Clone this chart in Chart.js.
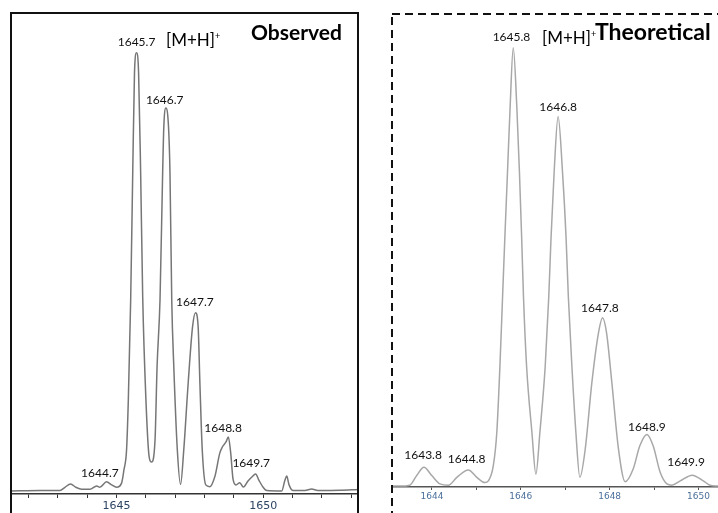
<!DOCTYPE html>
<html>
<head>
<meta charset="utf-8">
<script src="https://cdn.jsdelivr.net/npm/chart.js@4.4.0/dist/chart.umd.min.js"></script>
<style>
  html, body { margin: 0; padding: 0; background: #fff; }
  body { width: 718px; height: 513px; position: relative; overflow: hidden; font-family: Lato, "Open Sans", sans-serif; }
  .panel { position: absolute; top: 0; height: 513px; }
  #obsWrap { left: 0; width: 360px; }
  #theoWrap { left: 360px; width: 358px; }
  .title { position: absolute; font-weight: bold; font-size: 21px; color: #000; white-space: nowrap; line-height: 24px; }
  .ion { position: absolute; font-size: 17px; color: #000; white-space: nowrap; line-height: 20px; }
  .ion sup { font-size: 9px; vertical-align: 0; position: relative; top: -7px; }
</style>
</head>
<body>
<div class="panel" id="obsWrap"><canvas id="obsChart" width="360" height="513"></canvas></div>
<div class="panel" id="theoWrap"><canvas id="theoChart" width="358" height="513"></canvas></div>
<div class="ion" style="left:166px; top:30px">[M+H]<sup>+</sup></div>
<div class="title" style="left:251px; top:20px">Observed</div>
<div class="ion" style="left:542px; top:28px">[M+H]<sup>+</sup></div>
<div class="title" style="left:595px; top:19px; font-size:23px;">Theoretical</div>

<script>
// ===== Observed spectrum (m/z, relative intensity %) =====
const obsMz = [
  1641.40, 1642.39, 1643.07, 1643.24, 1643.43, 1643.61, 1643.81, 1644.09, 1644.32, 1644.43,
  1644.66, 1644.83, 1645.00, 1645.17, 1645.25, 1645.34, 1645.40, 1645.48, 1645.55, 1645.61,
  1645.68, 1645.75, 1645.82, 1645.89, 1646.00, 1646.11, 1646.19, 1646.31, 1646.38, 1646.48,
  1646.57, 1646.61, 1646.68, 1646.77, 1646.82, 1646.88, 1646.95, 1647.07, 1647.18, 1647.29,
  1647.44, 1647.59, 1647.69, 1647.78, 1647.84, 1647.92, 1648.04, 1648.18, 1648.35, 1648.52,
  1648.61, 1648.73, 1648.81, 1648.89, 1648.97, 1649.07, 1649.20, 1649.32, 1649.48, 1649.61,
  1649.74, 1649.85, 1649.99, 1650.12, 1650.63, 1650.74, 1650.80, 1650.88, 1651.02, 1651.42,
  1651.65, 1651.86, 1652.61, 1653.23
];
const obsIntensity = [
  0.0, 0.1, 0.1, 0.85, 1.6, 0.85, 0.4, 0.4, 1.15, 0.85,
  2.1, 1.4, 0.85, 1.8, 4.8, 9.4, 20.8, 43.6, 72.6, 95.4,
  100, 95.4, 72.6, 44.3, 20.8, 7.8, 6.6, 11.6, 28.4, 43.6,
  72.6, 83.1, 87.4, 83.1, 72.6, 43.6, 28.4, 9.4, 1.5, 9.4,
  24.6, 37.5, 40.7, 37.5, 24.6, 9.4, 1.4, 1.0, 3.3, 8.7,
  10.1, 11.2, 12.3, 8.7, 2.7, 1.4, 1.9, 0.9, 2.3, 3.2,
  3.9, 2.5, 0.9, 0.1, 0.0, 2.5, 3.4, 1.4, 0.1, 0.1,
  0.45, 0.1, 0.15, 0.35
];
const obsLabelText = ["1644.7", "1645.7", "1646.7", "1647.7", "1648.8", "1649.7"];
const obsLabelMz = [1644.43, 1645.68, 1646.64, 1647.67, 1648.63, 1649.59];
const obsLabelY = [4.0, 102.4, 89.2, 43.0, 14.4, 6.3];
const obsTickLabels = [1645, 1650];

// ===== Theoretical spectrum =====
const theoMz = [
  1643.09, 1643.28, 1643.50, 1643.66, 1643.82, 1643.99, 1644.18, 1644.37, 1644.56, 1644.82,
  1645.01, 1645.19, 1645.27, 1645.38, 1645.46, 1645.53, 1645.59, 1645.64, 1645.70, 1645.76,
  1645.83, 1645.91, 1645.97, 1646.02, 1646.06, 1646.13, 1646.25, 1646.34, 1646.43, 1646.55,
  1646.63, 1646.68, 1646.75, 1646.84, 1646.94, 1647.02, 1647.07, 1647.15, 1647.24, 1647.33,
  1647.45, 1647.60, 1647.75, 1647.84, 1647.93, 1648.05, 1648.20, 1648.35, 1648.53, 1648.68,
  1648.84, 1648.98, 1649.14, 1649.29, 1649.40, 1649.59, 1649.86, 1650.11, 1650.26, 1650.44
];
const theoIntensity = [
  0, 0, 0.2, 2.5, 4.3, 2.5, 0.5, 0.2, 2.0, 3.7,
  2.0, 0.8, 1.2, 4.6, 12.3, 27.4, 43.3, 56.5, 71.5, 86.6,
  100, 86.6, 71.5, 56.5, 43.3, 27.4, 12.3, 2.7, 12.3, 27.4,
  43.3, 56.5, 71.5, 84.3, 71.5, 56.5, 43.3, 27.4, 12.3, 2.0,
  8.4, 23.6, 35.0, 38.4, 35.0, 23.6, 8.4, 1.0, 3.9, 9.2,
  11.8, 9.2, 3.1, 0.5, 0.2, 1.2, 2.5, 1.2, 0.2, 0
];
const theoLabelText = ["1643.8", "1644.8", "1645.8", "1646.8", "1647.8", "1648.9", "1649.9"];
const theoLabelMz = [1643.80, 1644.78, 1645.79, 1646.84, 1647.78, 1648.84, 1649.72];
const theoLabelY = [7.06, 6.15, 102.5, 86.5, 40.5, 13.4, 5.5];
const theoTickLabels = [1644, 1646, 1648, 1650];

// nhãn đỉnh vẽ theo toạ độ dữ liệu
const peakLabelPlugin = {
  id: "peakLabels",
  afterDatasetsDraw(chart, args, opts) {
    const ctx = chart.ctx;
    const xs = chart.scales.x, ys = chart.scales.y;
    ctx.save();
    ctx.font = "12px Lato";
    ctx.fillStyle = "#111";
    ctx.textAlign = "center";
    ctx.textBaseline = "middle";
    opts.text.forEach((t, i) => {
      ctx.fillText(t, xs.getPixelForValue(opts.mz[i]), ys.getPixelForValue(opts.y[i]));
    });
    ctx.restore();
  }
};

// khung quanh mỗi phổ
const framePlugin = {
  id: "frame",
  afterDraw(chart, args, opts) {
    const a = chart.chartArea, ctx = chart.ctx;
    ctx.save();
    ctx.strokeStyle = opts.color;
    ctx.lineWidth = opts.width;
    ctx.setLineDash(opts.dash);
    ctx.strokeRect(a.left, a.top, opts.boxWidth || (a.right - a.left), 600);
    ctx.restore();
  }
};

function makeSpectrum(id, mz, intensity, cfg) {
  const points = mz.map((m, i) => ({ x: m, y: intensity[i] }));
  return new Chart(document.getElementById(id), {
    type: "line",
    data: {
      datasets: [{
        data: points,
        borderColor: cfg.lineColor,
        borderWidth: cfg.lineWidth,
        pointRadius: 0,
        fill: false,
        cubicInterpolationMode: "monotone"
      }]
    },
    options: {
      responsive: false,
      animation: false,
      layout: { padding: cfg.padding },
      plugins: {
        legend: { display: false },
        tooltip: { enabled: false },
        peakLabels: cfg.labels,
        frame: cfg.frame
      },
      scales: {
        x: {
          type: "linear",
          min: cfg.xMin,
          max: cfg.xMax,
          afterFit: (s) => { s.height = cfg.axisHeight; },
          border: { display: true, color: cfg.axisColor, width: 1.5 },
          grid: { display: true, drawOnChartArea: false, drawTicks: true, tickLength: cfg.tickLength, color: cfg.axisColor },
          ticks: {
            stepSize: 1,
            includeBounds: false,
            autoSkip: false,
            maxRotation: 0,
            padding: cfg.tickPadding,
            color: cfg.tickColor,
            font: { family: "DejaVu Sans", size: cfg.tickSize },
            callback: (v) => (cfg.tickLabels.includes(v) ? String(v) : "")
          }
        },
        y: { display: false, min: cfg.yMin, max: cfg.yMax }
      }
    },
    plugins: [peakLabelPlugin, framePlugin]
  });
}

makeSpectrum("obsChart", obsMz, obsIntensity, {
  lineColor: "#767676",
  lineWidth: 1.5,
  padding: { left: 11, right: 2, top: 13, bottom: 0 },
  xMin: 1641.40, xMax: 1653.23,
  yMin: -0.68, yMax: 109.06,
  axisHeight: 19,
  axisColor: "#333",
  tickLength: 4,
  tickPadding: 2,
  tickColor: "#2c4563",
  tickSize: 11,
  tickLabels: obsTickLabels,
  labels: { text: obsLabelText, mz: obsLabelMz, y: obsLabelY },
  frame: { color: "#111", width: 2, dash: [] }
});

makeSpectrum("theoChart", theoMz, theoIntensity, {
  lineColor: "#a8a8a8",
  lineWidth: 1.5,
  padding: { left: 32, right: 0, top: 14, bottom: 0 },
  xMin: 1643.10, xMax: 1650.44,
  yMin: -0.2, yMax: 107.7,
  axisHeight: 26,
  axisColor: "#555",
  tickLength: 3,
  tickPadding: 1,
  tickColor: "#4b6f9a",
  tickSize: 9,
  tickLabels: theoTickLabels,
  labels: { text: theoLabelText, mz: theoLabelMz, y: theoLabelY },
  frame: { color: "#111", width: 2, dash: [8, 5], boxWidth: 400 }
});
</script>
</body>
</html>
